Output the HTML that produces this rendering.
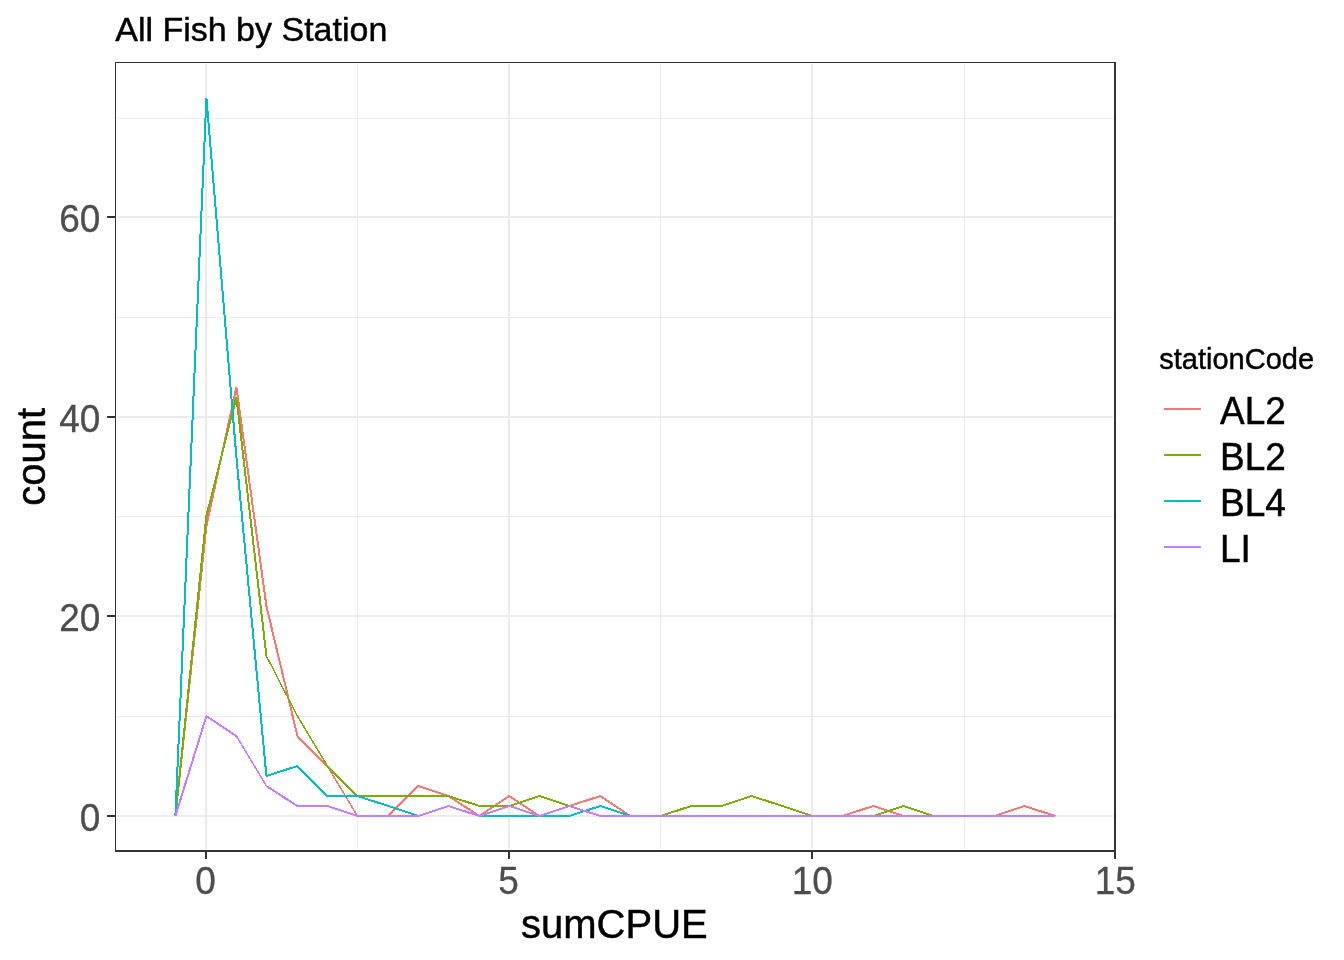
<!DOCTYPE html>
<html lang="en"><head><meta charset="utf-8"><title>All Fish by Station</title>
<style>
html,body{margin:0;padding:0;background:#fff;}
body{width:1344px;height:960px;overflow:hidden;}
svg{display:block;font-family:"Liberation Sans",Arial,sans-serif;}
</style></head><body>
<svg width="1344" height="960" viewBox="0 0 1344 960">
<rect width="1344" height="960" fill="#ffffff"/>

<g shape-rendering="crispEdges" fill="#EBEBEB">
<rect x="117" y="716" width="996" height="1"/>
<rect x="117" y="516" width="996" height="1"/>
<rect x="117" y="317" width="996" height="1"/>
<rect x="117" y="118" width="996" height="1"/>
<rect x="357" y="64" width="1" height="785"/>
<rect x="660" y="64" width="1" height="785"/>
<rect x="964" y="64" width="1" height="785"/>
<rect x="117" y="815" width="996" height="2"/>
<rect x="117" y="615" width="996" height="2"/>
<rect x="117" y="416" width="996" height="2"/>
<rect x="117" y="216" width="996" height="2"/>
<rect x="205" y="64" width="2" height="785"/>
<rect x="508" y="64" width="2" height="785"/>
<rect x="811" y="64" width="2" height="785"/>
</g>
<g fill="none" stroke-linejoin="bevel" stroke-linecap="butt" shape-rendering="crispEdges">
<g stroke="#F8766D">
<polyline stroke-width="2" points="175.4,816.0 206.4,526.0 236.4,387.0 266.4,606.0 297.4,736.0 327.4,766.0"/>
<polyline stroke-width="1.4" points="327.4,766.0 357.4,816.0"/>
<polyline stroke-width="2" points="357.4,816.0 388.4,816.0 418.4,786.0 448.4,796.0 479.4,816.0 509.4,796.0 539.4,816.0 569.4,806.0 600.4,796.0 630.4,816.0 660.4,816.0 691.4,816.0 721.4,816.0 751.4,816.0 782.4,816.0 812.4,816.0 842.4,816.0 873.4,806.0 903.4,816.0 933.4,816.0 964.4,816.0 994.4,816.0 1024.4,806.0 1055.4,816.0"/>
</g>
<g stroke="#7CAE00">
<polyline stroke-width="2" points="175.4,816.0 206.4,516.0 236.4,397.0 266.4,656.0"/>
<polyline stroke-width="1.4" points="266.4,656.0 297.4,716.0 327.4,766.0"/>
<polyline stroke-width="2" points="327.4,766.0 357.4,796.0 388.4,796.0 418.4,796.0 448.4,796.0 479.4,806.0 509.4,806.0 539.4,796.0 569.4,806.0 600.4,816.0 630.4,816.0 660.4,816.0 691.4,806.0 721.4,806.0 751.4,796.0 782.4,806.0 812.4,816.0 842.4,816.0 873.4,816.0 903.4,806.0 933.4,816.0 964.4,816.0 994.4,816.0 1024.4,816.0 1055.4,816.0"/>
</g>
<g stroke="#00BFC4">
<polyline stroke-width="2" points="175.4,816.0 206.4,98.0 236.4,457.0 266.4,776.0 297.4,766.0 327.4,796.0 357.4,796.0 388.4,806.0 418.4,816.0 448.4,806.0 479.4,816.0 509.4,816.0 539.4,816.0 569.4,816.0 600.4,806.0 630.4,816.0 660.4,816.0 691.4,816.0 721.4,816.0 751.4,816.0 782.4,816.0 812.4,816.0 842.4,816.0 873.4,816.0 903.4,816.0 933.4,816.0 964.4,816.0 994.4,816.0 1024.4,816.0 1055.4,816.0"/>
</g>
<g stroke="#C77CFF">
<polyline stroke-width="2" points="175.4,816.0 206.4,716.0 236.4,736.0"/>
<polyline stroke-width="1.4" points="236.4,736.0 266.4,786.0"/>
<polyline stroke-width="2" points="266.4,786.0 297.4,806.0 327.4,806.0 357.4,816.0 388.4,816.0 418.4,816.0 448.4,806.0 479.4,816.0 509.4,806.0 539.4,816.0 569.4,806.0 600.4,816.0 630.4,816.0 660.4,816.0 691.4,816.0 721.4,816.0 751.4,816.0 782.4,816.0 812.4,816.0 842.4,816.0 873.4,816.0 903.4,816.0 933.4,816.0 964.4,816.0 994.4,816.0 1024.4,816.0 1055.4,816.0"/>
</g>
</g>
<g shape-rendering="crispEdges" fill="#333333">
<rect x="115" y="62" width="1001" height="1"/>
<rect x="115" y="62" width="1" height="790"/>
<rect x="1114" y="62" width="2" height="790"/>
<rect x="115" y="850" width="1001" height="2"/>
<rect x="205" y="852" width="2" height="7"/>
<rect x="508" y="852" width="2" height="7"/>
<rect x="811" y="852" width="2" height="7"/>
<rect x="1114" y="852" width="2" height="7"/>
<rect x="107" y="815" width="8" height="2"/>
<rect x="107" y="615" width="8" height="2"/>
<rect x="107" y="416" width="8" height="2"/>
<rect x="107" y="216" width="8" height="2"/>
</g>
<text transform="translate(205.60,894.00) scale(1,1.03)" font-size="37px" fill="#4D4D4D" stroke="#4D4D4D" stroke-width="0.3" text-anchor="middle">0</text>
<text transform="translate(508.60,894.00) scale(1,1.03)" font-size="37px" fill="#4D4D4D" stroke="#4D4D4D" stroke-width="0.3" text-anchor="middle">5</text>
<text transform="translate(812.20,894.00) scale(1,1.03)" font-size="37px" fill="#4D4D4D" stroke="#4D4D4D" stroke-width="0.3" text-anchor="middle">10</text>
<text transform="translate(1115.20,894.00) scale(1,1.03)" font-size="37px" fill="#4D4D4D" stroke="#4D4D4D" stroke-width="0.3" text-anchor="middle">15</text>
<text transform="translate(100.30,831.00) scale(1,1.03)" font-size="37px" fill="#4D4D4D" stroke="#4D4D4D" stroke-width="0.3" text-anchor="end">0</text>
<text transform="translate(100.30,631.00) scale(1,1.03)" font-size="37px" fill="#4D4D4D" stroke="#4D4D4D" stroke-width="0.3" text-anchor="end">20</text>
<text transform="translate(100.30,432.00) scale(1,1.03)" font-size="37px" fill="#4D4D4D" stroke="#4D4D4D" stroke-width="0.3" text-anchor="end">40</text>
<text transform="translate(100.30,232.00) scale(1,1.03)" font-size="37px" fill="#4D4D4D" stroke="#4D4D4D" stroke-width="0.3" text-anchor="end">60</text>
<text transform="translate(115.20,41.00)" font-size="34px" fill="#000" stroke="#000" stroke-width="0.45">All Fish by Station</text>
<text transform="translate(614.40,938.00)" font-size="40px" fill="#000" stroke="#000" stroke-width="0.45" text-anchor="middle">sumCPUE</text>
<text transform="translate(45.00,456.80) rotate(-90)" font-size="40px" fill="#000" stroke="#000" stroke-width="0.45" text-anchor="middle">count</text>
<text transform="translate(1159.30,369.00)" font-size="29px" fill="#000" stroke="#000" stroke-width="0.45">stationCode</text>
<g shape-rendering="crispEdges">
<rect x="1164" y="408" width="37" height="2" fill="#F8766D"/>
<rect x="1164" y="454" width="37" height="2" fill="#7CAE00"/>
<rect x="1164" y="500" width="37" height="2" fill="#00BFC4"/>
<rect x="1164" y="546" width="37" height="2" fill="#C77CFF"/>
</g>
<text transform="translate(1220.00,424.00) scale(1,1.04)" font-size="37px" fill="#000" stroke="#000" stroke-width="0.45">AL2</text>
<text transform="translate(1220.00,470.00) scale(1,1.04)" font-size="37px" fill="#000" stroke="#000" stroke-width="0.45">BL2</text>
<text transform="translate(1220.00,516.00) scale(1,1.04)" font-size="37px" fill="#000" stroke="#000" stroke-width="0.45">BL4</text>
<text transform="translate(1220.00,562.00) scale(1,1.04)" font-size="37px" fill="#000" stroke="#000" stroke-width="0.45">LI</text>
</svg></body></html>
